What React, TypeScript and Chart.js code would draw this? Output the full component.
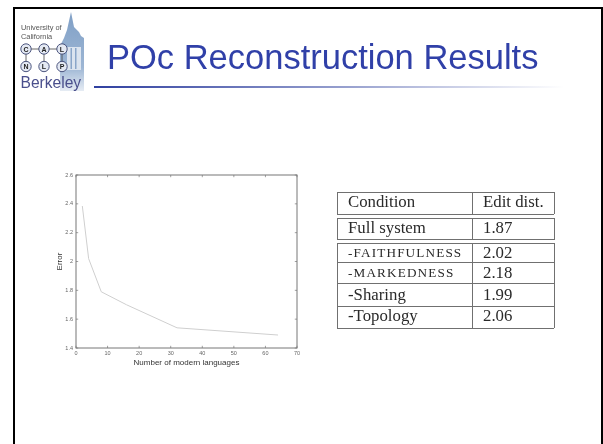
import React, { useEffect, useRef } from "react";
import { Chart, registerables } from "chart.js";

Chart.register(...registerables);

const languageCounts = [2, 4, 8, 16, 32, 64];
const errorValues = [2.385, 2.02, 1.79, 1.7, 1.54, 1.49];
const xTickValues = [0, 10, 20, 30, 40, 50, 60, 70];
const yTickValues = [1.4, 1.6, 1.8, 2, 2.2, 2.4, 2.6];

const tableHeader = ["Condition", "Edit dist."];
const conditionNames = ["Full system", "-FAITHFULNESS", "-MARKEDNESS", "-Sharing", "-Topology"];
const editDistances = ["1.87", "2.02", "2.18", "1.99", "2.06"];

const AXIS_GREY = "#777777";

const boxTicks = {
  id: "boxTicks",
  afterDraw(chart: any) {
    const { ctx, chartArea: a, scales } = chart;
    ctx.save();
    ctx.strokeStyle = AXIS_GREY;
    ctx.lineWidth = 1;
    ctx.strokeRect(a.left, a.top, a.right - a.left, a.bottom - a.top);
    ctx.lineWidth = 0.7;
    ctx.beginPath();
    for (const v of xTickValues) {
      const p = scales.x.getPixelForValue(v);
      ctx.moveTo(p, a.bottom);
      ctx.lineTo(p, a.bottom - 2.2);
      ctx.moveTo(p, a.top);
      ctx.lineTo(p, a.top + 2.2);
    }
    for (const v of yTickValues) {
      const p = scales.y.getPixelForValue(v);
      ctx.moveTo(a.left, p);
      ctx.lineTo(a.left + 2.2, p);
      ctx.moveTo(a.right, p);
      ctx.lineTo(a.right - 2.2, p);
    }
    ctx.stroke();
    ctx.restore();
  },
};

function Logo() {
  const nodes = [
    ["C", 26, 49],
    ["A", 44, 49],
    ["L", 62, 49],
    ["N", 26, 66.5],
    ["L", 44, 66.5],
    ["P", 62, 66.5],
  ] as const;
  return (
    <svg width={90} height={95} style={{ position: "absolute", left: 0, top: 0, filter: "blur(0.35px)" }}>
      <defs>
        <linearGradient id="tower" x1="0" y1="0" x2="0" y2="1">
          <stop offset="0" stopColor="#7f9fc6" />
          <stop offset="0.7" stopColor="#9db6d4" />
          <stop offset="1" stopColor="#e6ecf4" />
        </linearGradient>
      </defs>
      <polygon points="71,12 74,27 79,32 81,36 84,38 84,91 60,91 60,46 64,38 67,30" fill="url(#tower)" />
      <rect x={67} y={47} width={14} height={23} fill="#dbe4ef" />
      <rect x={70.5} y={48} width={1.5} height={21} fill="#8aa6c9" />
      <rect x={75} y={48} width={1.5} height={21} fill="#8aa6c9" />
      <text x={21} y={30} fontFamily="Liberation Sans" fontSize={7.4} fill="#555">University of</text>
      <text x={21} y={39} fontFamily="Liberation Sans" fontSize={7.4} fill="#555">California</text>
      <path d="M26 49H62M26 49V66M44 49V66M62 49V66" stroke="#444" strokeWidth={0.8} />
      {nodes.map(([t, x, y], i) => (
        <g key={i}>
          <circle cx={x} cy={y} r={5.2} fill="#e4e9f3" stroke="#3a4470" strokeWidth={0.9} />
          <text x={x} y={y + 2.5} textAnchor="middle" fontFamily="Liberation Sans" fontWeight="bold" fontSize={7} fill="#222">{t}</text>
        </g>
      ))}
      <text x={20.5} y={88} fontFamily="Liberation Sans" fontSize={15.6} fill="#4a4f8c">Berkeley</text>
    </svg>
  );
}

function ResultsTable() {
  const hLines = [192, 214, 218, 239.5, 243, 262.5, 283.5, 306, 328];
  const rowCenters = [201.7, 228, 252.7, 273, 295, 315.7];
  const rows = [tableHeader, ...conditionNames.map((n, i) => [n, editDistances[i]])];
  const line = "1.4px solid #707070";
  return (
    <div style={{ position: "absolute", left: 0, top: 0, fontFamily: "Liberation Serif", color: "#2a2a2a", filter: "blur(0.3px)" }}>
      {hLines.map((y, i) => (
        <div key={i} style={{ position: "absolute", left: 337, top: y - 0.5, width: 217, borderTop: line }} />
      ))}
      {hLines.slice(0, -1).map((y, i) =>
        i === 1 || i === 3 ? null : (
          <React.Fragment key={i}>
            {[337, 472.5, 554].map((x) => (
              <div key={x} style={{ position: "absolute", left: x - 0.5, top: y, height: hLines[i + 1] - y, borderLeft: line }} />
            ))}
          </React.Fragment>
        ),
      )}
      {rows.map((r, i) => {
        const caps = i === 2 || i === 3;
        return (
          <React.Fragment key={i}>
            <div
              style={{
                position: "absolute",
                left: 348,
                top: rowCenters[i] - 10,
                height: 20,
                lineHeight: "20px",
                fontSize: caps ? 13.2 : 16.8,
                letterSpacing: caps ? 1.15 : 0,
                whiteSpace: "nowrap",
              }}
            >
              {r[0]}
            </div>
            <div
              style={{
                position: "absolute",
                left: 483,
                top: rowCenters[i] - 10,
                height: 20,
                lineHeight: "20px",
                fontSize: 16.8,
                whiteSpace: "nowrap",
              }}
            >
              {r[1]}
            </div>
          </React.Fragment>
        );
      })}
    </div>
  );
}

export default function App() {
  const ref = useRef<HTMLCanvasElement>(null);

  useEffect(() => {
    document.body.style.margin = "0";
    const chart = new Chart(ref.current!, {
      type: "line",
      data: {
        labels: languageCounts,
        datasets: [
          {
            data: languageCounts.map((x, i) => ({ x, y: errorValues[i] })),
            borderColor: "#cfcfcf",
            borderWidth: 1,
            pointRadius: 0,
            tension: 0,
          },
        ],
      },
      options: {
        animation: false,
        responsive: false,
        layout: { padding: { left: 55, top: 175, right: 306, bottom: 76 } },
        plugins: { legend: { display: false }, tooltip: { enabled: false } },
        scales: {
          x: {
            type: "linear",
            min: 0,
            max: 70,
            afterFit: (s: any) => { s.height = 20; },
            afterBuildTicks: (s: any) => { s.ticks = xTickValues.map((value) => ({ value })); },
            grid: { display: false, drawTicks: false, tickLength: 0 },
            border: { display: false },
            ticks: { color: "#666", font: { size: 5.5, family: "Liberation Sans" }, padding: 2.5, maxRotation: 0, autoSkip: false },
            title: { display: true, text: "Number of modern languages", color: "#333", font: { size: 8, family: "Liberation Sans" }, padding: { top: 1, bottom: 0 } },
          },
          y: {
            min: 1.4,
            max: 2.6,
            afterFit: (s: any) => { s.width = 21; },
            afterBuildTicks: (s: any) => { s.ticks = yTickValues.map((value) => ({ value })); },
            grid: { display: false, drawTicks: false, tickLength: 0 },
            border: { display: false },
            ticks: {
              color: "#666",
              font: { size: 5.5, family: "Liberation Sans" },
              padding: 3,
              autoSkip: false,
              callback: (v: any) => String(Number(v)),
            },
            title: { display: true, text: "Error", color: "#333", font: { size: 8, family: "Liberation Sans" }, padding: 0 },
          },
        },
      },
      plugins: [boxTicks],
    } as any);
    return () => chart.destroy();
  }, []);

  return (
    <div style={{ position: "relative", width: 603, height: 444, overflow: "hidden", background: "#fff" }}>
      <canvas ref={ref} width={603} height={444} style={{ position: "absolute", left: 0, top: 0, display: "block", filter: "blur(0.3px)" }} />
      <div style={{ position: "absolute", left: 13, top: 7, width: 586, height: 450, border: "2px solid #000", boxSizing: "content-box" }} />
      <Logo />
      <div
        style={{
          position: "absolute",
          left: 107,
          top: 36,
          fontFamily: "Liberation Sans",
          fontSize: 34.5,
          lineHeight: "42px",
          color: "#3040a8",
          whiteSpace: "nowrap",
        }}
      >
        POc Reconstruction Results
      </div>
      <div
        style={{
          position: "absolute",
          left: 94,
          top: 86,
          width: 470,
          height: 2,
          background: "linear-gradient(to right, #3040a0, #9aa3d0 55%, #ffffff)",
        }}
      />
      <ResultsTable />
    </div>
  );
}
